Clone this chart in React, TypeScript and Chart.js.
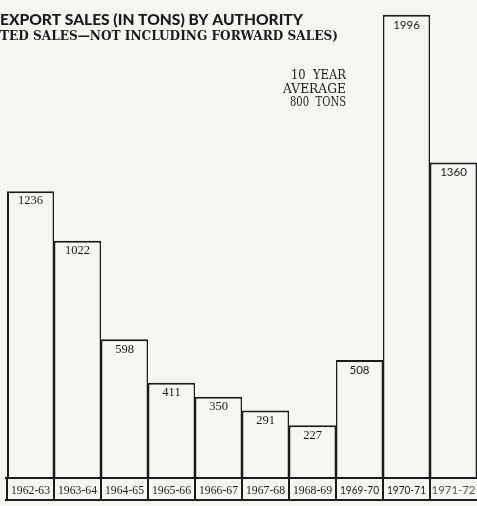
import React, { useEffect, useRef } from "react";
import { Chart, registerables } from "chart.js";

Chart.register(...registerables);

const categories = ["1962-63", "1963-64", "1964-65", "1965-66", "1966-67", "1967-68", "1968-69", "1969-70", "1970-71", "1971-72"];
const tons = [1236, 1022, 598, 411, 350, 291, 227, 508, 1996, 1360];
const titleText = "EXPORT SALES (IN TONS) BY AUTHORITY";
const subtitleText = "TED SALES\u2014NOT INCLUDING FORWARD SALES)";
const averageNote = ["10  YEAR", "AVERAGE", "800  TONS"];

const PAPER = "#f6f6f3";
const INK = "#1b1b1b";

function fitText(ctx: CanvasRenderingContext2D, text: string, x: number, y: number, font: string, width: number, align: "left" | "right" | "center") {
  ctx.save();
  ctx.font = font;
  ctx.textAlign = "left";
  const w = ctx.measureText(text).width;
  const s = width / w;
  ctx.translate(x, y);
  ctx.scale(s, 1);
  const startX = align === "left" ? 0 : align === "right" ? -w : -w / 2;
  ctx.fillText(text, startX, 0);
  ctx.restore();
}

const decorPlugin = {
  id: "decor",
  beforeDraw(chart: any) {
    const ctx = chart.ctx;
    ctx.save();
    ctx.fillStyle = PAPER;
    ctx.fillRect(0, 0, chart.width, chart.height);
    ctx.restore();
  },
  afterDatasetsDraw(chart: any) {
    const ctx: CanvasRenderingContext2D = chart.ctx;
    const area = chart.chartArea;
    const xs = chart.scales.x;
    const meta = chart.getDatasetMeta(0);
    ctx.save();
    ctx.fillStyle = INK;
    ctx.textBaseline = "alphabetic";

    // Titles
    fitText(ctx, titleText, 0, 24.5, "900 15.5px Lato", 303, "left");
    fitText(ctx, subtitleText, 0, 40, "bold 12.5px 'DejaVu Serif'", 338, "left");
    const noteW = [55, 63, 56];
    const noteY = [79, 92.5, 106];
    averageNote.forEach((t, i) => fitText(ctx, t, 346, noteY[i], "12.5px 'DejaVu Serif'", noteW[i], "right"));

    // Value labels
    meta.data.forEach((bar: any, i: number) => {
      const sans = i >= 7;
      ctx.font = sans ? "11.5px Lato" : "12.5px 'Liberation Serif'";
      ctx.textAlign = "center";
      ctx.textBaseline = "middle";
      ctx.fillStyle = INK;
      ctx.fillText(String(tons[i]), bar.x, bar.y + 10);
    });

    // Label row
    const top = area.bottom;
    const bottom = area.bottom + 22;
    const half = (xs.getPixelForValue(1) - xs.getPixelForValue(0)) / 2;
    ctx.strokeStyle = INK;
    ctx.lineWidth = 2;
    ctx.beginPath();
    ctx.moveTo(area.left - 2, top);
    ctx.lineTo(area.right, top);
    ctx.moveTo(area.left - 2, bottom);
    ctx.lineTo(area.right, bottom);
    for (let i = 0; i < categories.length; i++) {
      const xl = xs.getPixelForValue(i) - half;
      ctx.moveTo(xl, top);
      ctx.lineTo(xl, bottom);
    }
    ctx.stroke();
    ctx.textBaseline = "alphabetic";
    categories.forEach((c, i) => {
      const cx = xs.getPixelForValue(i);
      const sans = i >= 7;
      ctx.fillStyle = i === 9 ? "#555" : INK;
      fitText(ctx, c, cx, top + 15.5, sans ? "12px Lato" : "12.5px 'Liberation Serif'", i === 9 ? 44 : 39, "center");
    });
    ctx.restore();
  },
};

export default function App() {
  const ref = useRef<HTMLCanvasElement>(null);
  useEffect(() => {
    document.body.style.margin = "0";
    const canvas = ref.current!;
    const chart = new Chart(canvas, {
      type: "bar",
      data: {
        labels: categories,
        datasets: [
          {
            data: tons,
            backgroundColor: PAPER,
            borderColor: INK,
            borderSkipped: false,
            inflateAmount: 0,
            borderWidth: (c: any) => ({
              top: 2,
              left: c.dataIndex === 0 ? 2 : 1.5,
              right: 1.5,
              bottom: 0,
            }),
            barPercentage: 1,
            categoryPercentage: 1,
          } as any,
        ],
      },
      options: {
        responsive: false,
        devicePixelRatio: 1,
        animation: false,
        layout: { padding: { left: 7, right: 0, top: 0, bottom: 28 } },
        plugins: { legend: { display: false }, tooltip: { enabled: false }, title: { display: false } },
        scales: {
          x: { display: false },
          y: { display: false, min: 0, max: 2060 },
        },
      },
      plugins: [decorPlugin],
    });
    return () => chart.destroy();
  }, []);
  return <canvas ref={ref} width={477} height={506} style={{ display: "block" }} />;
}
